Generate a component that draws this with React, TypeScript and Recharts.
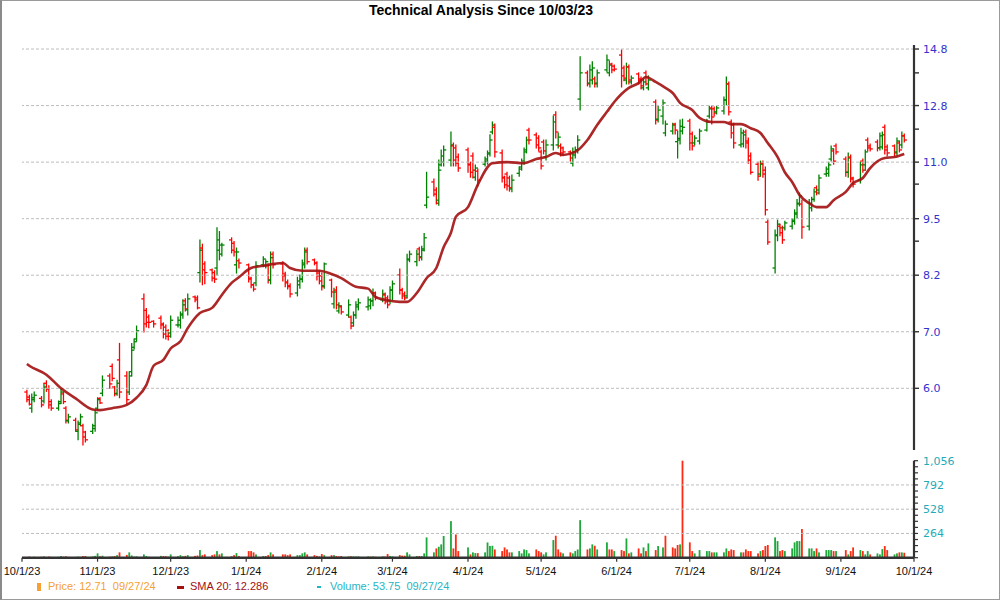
import React from "react";
import { ComposedChart, Bar, Line, XAxis, YAxis, ReferenceLine } from "recharts";

// trading calendar
const START = "2023-10-03";
const END = "2024-09-27";
const holidays = [
  "2023-11-23", "2023-12-25", "2024-01-01", "2024-01-15", "2024-02-19",
  "2024-03-29", "2024-05-27", "2024-06-19", "2024-07-04", "2024-09-02",
];

// [open, high, low, close] per trading day
const oct23 = [
  [5.99, 6.02, 5.84, 5.87], [5.91, 5.94, 5.79, 5.8], [5.74, 5.96, 5.68, 5.9], [5.87, 5.99, 5.84, 5.94],
  [5.89, 5.92, 5.76, 5.79], [5.85, 6.13, 5.82, 6.07], [6.13, 6.17, 6.0, 6.04], [6.04, 6.09, 5.74, 5.79], [5.84, 5.87, 5.71, 5.74],
  [5.74, 5.85, 5.71, 5.81], [5.84, 6.04, 5.81, 5.99], [5.96, 5.99, 5.81, 5.84], [5.74, 5.76, 5.52, 5.56], [5.55, 5.65, 5.52, 5.61],
  [5.56, 5.59, 5.4, 5.42], [5.4, 5.55, 5.28, 5.5], [5.52, 5.65, 5.48, 5.61], [5.48, 5.5, 5.21, 5.32], [5.39, 5.4, 5.25, 5.28],
  [5.4, 5.5, 5.37, 5.48], [5.44, 5.71, 5.4, 5.67],
];
const nov23 = [
  [5.74, 5.9, 5.71, 5.87], [5.89, 5.9, 5.81, 5.82], [5.97, 6.25, 5.93, 6.18],
  [6.25, 6.28, 6.05, 6.12], [6.41, 6.45, 6.17, 6.21], [6.07, 6.08, 5.93, 5.96], [5.97, 6.18, 5.94, 6.13], [6.52, 6.81, 5.9, 5.99],
  [6.25, 6.32, 5.81, 5.87], [5.99, 6.32, 5.95, 6.25], [6.32, 6.81, 6.25, 6.69], [6.74, 6.89, 6.71, 6.84], [6.89, 7.13, 6.85, 7.04],
  [7.66, 7.76, 7.02, 7.17], [7.43, 7.47, 7.11, 7.2], [7.3, 7.34, 7.1, 7.2], [7.22, 7.23, 7.11, 7.17],
  [7.28, 7.32, 7.08, 7.17], [7.15, 7.19, 6.91, 6.98], [7.11, 7.15, 6.89, 6.94], [7.04, 7.06, 6.87, 6.94],
];
const dec23 = [
  [7.0, 7.32, 6.92, 7.24],
  [7.15, 7.3, 7.11, 7.24], [7.15, 7.4, 7.09, 7.34], [7.36, 7.64, 7.28, 7.54], [7.62, 7.66, 7.42, 7.46], [7.44, 7.76, 7.34, 7.66],
  [7.7, 7.72, 7.6, 7.64], [7.68, 7.72, 7.46, 7.48], [8.21, 8.95, 8.01, 8.71], [8.76, 8.85, 7.95, 8.27], [8.4, 8.45, 7.97, 8.21],
  [8.27, 8.29, 8.03, 8.09], [8.21, 8.25, 8.0, 8.07], [8.31, 9.24, 8.16, 8.95], [8.71, 9.15, 8.49, 8.83], [8.62, 8.87, 8.58, 8.83],
  [8.95, 9.0, 8.65, 8.71], [8.87, 8.91, 8.58, 8.67], [8.38, 8.76, 8.2, 8.67], [8.47, 8.51, 8.31, 8.42],
];
const jan24 = [
  [8.38, 8.4, 8.01, 8.09], [8.07, 8.11, 7.89, 7.95], [7.95, 7.97, 7.82, 7.86], [7.99, 8.45, 7.93, 8.36],
  [8.38, 8.56, 8.34, 8.51], [8.36, 8.49, 8.31, 8.45], [8.36, 8.4, 7.99, 8.05], [8.05, 8.67, 7.97, 8.54], [8.62, 8.67, 8.31, 8.38],
  [8.4, 8.45, 8.03, 8.14], [8.18, 8.22, 7.91, 7.99], [8.01, 8.05, 7.86, 7.91], [7.93, 7.97, 7.7, 7.76],
  [7.78, 8.11, 7.72, 8.03], [7.95, 8.16, 7.88, 8.07], [8.07, 8.49, 8.01, 8.42], [8.38, 8.76, 8.31, 8.67], [8.71, 8.76, 8.4, 8.45],
  [8.49, 8.51, 8.38, 8.42], [8.42, 8.45, 8.05, 8.14], [8.2, 8.25, 7.97, 8.03],
];
const feb24 = [
  [8.14, 8.2, 7.84, 7.91], [7.93, 8.42, 7.88, 8.4],
  [8.05, 8.07, 7.7, 7.8], [7.56, 7.88, 7.48, 7.8], [7.84, 7.91, 7.46, 7.54], [7.42, 7.58, 7.38, 7.52], [7.5, 7.52, 7.36, 7.4],
  [7.34, 7.64, 7.3, 7.54], [7.3, 7.32, 7.08, 7.13], [7.19, 7.4, 7.13, 7.34], [7.34, 7.6, 7.28, 7.54], [7.5, 7.66, 7.44, 7.58],
  [7.5, 7.7, 7.44, 7.64], [7.52, 7.66, 7.46, 7.62], [7.62, 7.86, 7.52, 7.78], [7.78, 7.8, 7.64, 7.68],
  [7.64, 7.84, 7.6, 7.76], [7.74, 7.78, 7.56, 7.6], [7.68, 7.72, 7.48, 7.54], [7.62, 7.91, 7.56, 7.84],
];
const mar24 = [
  [7.84, 8.03, 7.64, 7.97],
  [8.16, 8.29, 7.76, 7.84], [7.84, 7.88, 7.66, 7.72], [7.76, 7.8, 7.64, 7.68], [7.72, 8.62, 7.68, 8.49], [8.51, 8.69, 8.45, 8.62],
  [8.45, 8.71, 8.36, 8.62], [8.74, 8.78, 8.47, 8.54], [8.56, 8.8, 8.49, 8.71], [8.74, 9.1, 8.69, 9.0], [9.81, 10.7, 9.74, 10.02],
  [10.43, 10.51, 10.05, 10.1], [10.21, 10.27, 9.84, 9.86], [9.94, 11.05, 9.81, 10.76], [10.91, 11.35, 10.88, 11.17], [10.99, 11.47, 10.88, 11.35],
  [11.05, 11.9, 10.88, 11.5], [11.47, 11.56, 10.88, 11.05], [11.41, 11.5, 10.88, 10.96], [11.14, 11.23, 10.73, 10.82],
];
const apr24 = [
  [11.35, 11.41, 10.7, 10.91], [10.93, 10.99, 10.56, 10.7], [11.17, 11.26, 10.54, 10.76], [10.56, 10.91, 10.48, 10.82], [10.73, 10.79, 10.32, 10.48],
  [10.93, 11.14, 10.88, 11.08], [11.02, 11.32, 10.93, 11.23], [11.26, 11.81, 11.17, 11.65], [11.9, 12.22, 11.84, 12.12], [12.05, 12.15, 11.14, 11.29],
  [11.26, 11.35, 10.43, 10.56], [10.54, 10.59, 10.27, 10.35], [10.65, 10.7, 10.21, 10.32], [10.54, 10.59, 10.18, 10.27], [10.24, 10.62, 10.16, 10.48],
  [10.67, 10.85, 10.59, 10.79], [10.85, 11.08, 10.76, 10.99], [11.02, 11.41, 10.93, 11.29], [11.35, 11.74, 11.26, 11.65], [11.96, 12.02, 11.53, 11.65],
  [11.81, 11.87, 11.41, 11.5], [11.71, 11.78, 11.32, 11.41],
];
const may24 = [
  [11.29, 11.35, 10.79, 10.88], [11.59, 11.65, 11.23, 11.32], [11.14, 11.65, 11.05, 11.5],
  [11.5, 12.41, 11.35, 12.22], [12.45, 12.55, 11.71, 11.9], [11.5, 11.87, 11.41, 11.74], [11.47, 11.53, 11.17, 11.26], [11.41, 11.44, 11.2, 11.29],
  [11.29, 11.32, 11.02, 11.11], [10.96, 11.41, 10.88, 11.29], [11.2, 11.44, 11.11, 11.35], [11.35, 11.78, 11.26, 11.65], [12.98, 14.51, 12.61, 13.91],
  [13.91, 13.98, 13.44, 13.51], [13.54, 14.2, 13.4, 14.02], [13.65, 14.32, 13.51, 14.09], [13.69, 13.76, 13.4, 13.51], [13.54, 14.02, 13.4, 13.91],
  [14.02, 14.58, 13.94, 14.39], [13.91, 14.35, 13.8, 14.2], [14.24, 14.27, 13.91, 14.02], [14.16, 14.2, 13.98, 14.05],
];
const jun24 = [
  [14.58, 14.78, 13.4, 13.8], [14.09, 14.16, 13.62, 13.72], [13.65, 14.27, 13.51, 14.13], [14.13, 14.2, 13.51, 13.65], [13.58, 13.8, 13.51, 13.72],
  [13.87, 13.91, 13.51, 13.65], [13.69, 13.76, 13.33, 13.44], [13.37, 13.69, 13.3, 13.58], [13.91, 13.98, 13.47, 13.51], [13.37, 13.8, 13.3, 13.65],
  [12.88, 12.95, 12.15, 12.28], [12.31, 12.74, 12.22, 12.61], [12.41, 12.95, 12.15, 12.85], [11.87, 12.25, 11.78, 12.15],
  [11.93, 12.18, 11.84, 12.12], [12.15, 12.18, 11.84, 11.96], [11.6, 11.93, 11.11, 11.7], [11.65, 12.28, 11.53, 12.08], [11.93, 12.31, 11.84, 12.05],
];
const jul24 = [
  [12.25, 12.31, 11.35, 11.56], [11.84, 11.9, 11.35, 11.47], [11.56, 11.78, 11.5, 11.71], [11.62, 11.99, 11.53, 11.93],
  [11.96, 12.31, 11.93, 12.22], [12.41, 12.74, 12.35, 12.65], [12.68, 12.74, 12.15, 12.38], [12.65, 12.71, 12.41, 12.51], [12.55, 12.74, 12.48, 12.68],
  [12.58, 13.05, 12.48, 12.95], [12.95, 13.76, 12.78, 13.51], [13.51, 13.58, 12.45, 12.55], [12.22, 12.28, 11.71, 11.87], [12.12, 12.18, 11.41, 11.56],
  [11.5, 12.02, 11.44, 11.87], [11.53, 11.96, 11.44, 11.81], [11.9, 11.96, 11.41, 11.56], [11.62, 11.71, 10.96, 11.05], [11.17, 11.26, 10.65, 10.7],
  [10.93, 10.99, 10.48, 10.59], [10.65, 11.02, 10.59, 10.93], [10.96, 11.02, 10.56, 10.65],
];
const aug24 = [
  [10.76, 10.85, 9.56, 9.69], [9.38, 9.43, 8.85, 8.9],
  [8.31, 9.19, 8.2, 9.07], [9.05, 9.43, 8.93, 9.33], [9.28, 9.33, 9.05, 9.12], [9.24, 9.28, 8.87, 8.95], [9.24, 9.4, 9.19, 9.36],
  [9.28, 9.47, 9.21, 9.43], [9.4, 9.69, 9.33, 9.61], [9.58, 9.96, 9.49, 9.86], [9.84, 10.13, 9.79, 10.05], [9.84, 9.94, 8.99, 9.26],
  [9.28, 9.96, 9.19, 9.86], [9.74, 10.02, 9.66, 9.96], [9.96, 10.24, 9.91, 10.16], [10.27, 10.32, 10.08, 10.13], [10.21, 10.62, 10.1, 10.54],
  [10.65, 10.85, 10.59, 10.79], [10.67, 10.99, 10.59, 10.91], [11.08, 11.47, 11.02, 11.38], [11.32, 11.38, 10.93, 11.02], [11.47, 11.53, 11.23, 11.29],
];
const sep24 = [
  [11.08, 11.14, 10.59, 10.7], [10.7, 11.26, 10.56, 11.11], [11.14, 11.2, 10.43, 10.54], [10.51, 10.56, 10.29, 10.37],
  [10.48, 10.99, 10.4, 10.91], [11.02, 11.08, 10.7, 10.76], [10.91, 11.35, 10.76, 11.29], [11.65, 11.71, 11.32, 11.41], [11.47, 11.53, 11.32, 11.38],
  [11.59, 11.65, 11.32, 11.41], [11.41, 11.87, 11.35, 11.78], [11.44, 11.9, 11.38, 11.81], [12.05, 12.12, 11.23, 11.35], [11.44, 11.5, 11.17, 11.26],
  [11.47, 11.5, 11.17, 11.26], [11.29, 11.71, 11.2, 11.62], [11.56, 11.62, 11.29, 11.35], [11.5, 11.9, 11.41, 11.78], [11.78, 11.84, 11.59, 11.65],
];

// daily volume (thousands)
const volOct23 = [8, 12, 6, 10, 10, 14, 8, 12, 9, 10, 18, 12, 15, 10, 8, 12, 10, 18, 18, 14, 20];
const volNov23 = [47, 16, 22, 12, 14, 18, 28, 58, 30, 58, 25, 12, 14, 36, 18, 10, 6, 20, 18, 16, 12];
const volDec23 = [36, 16, 28, 16, 20, 28, 20, 24, 83, 28, 36, 28, 36, 72, 36, 47, 16, 28, 50, 18];
const volJan24 = [72, 72, 58, 36, 18, 18, 28, 58, 36, 36, 36, 28, 36, 28, 28, 47, 58, 36, 28, 20, 14];
const volFeb24 = [40, 28, 28, 28, 18, 14, 18, 14, 16, 14, 12, 14, 14, 12, 14, 10, 14, 12, 40, 18];
const volMar24 = [14, 28, 22, 22, 58, 36, 18, 18, 18, 47, 221, 58, 101, 119, 145, 236, 398, 101, 253, 72];
const volApr24 = [112, 36, 58, 50, 50, 58, 166, 127, 130, 90, 72, 112, 90, 58, 58, 72, 47, 90, 83, 47, 90, 72];
const volMay24 = [58, 36, 58, 192, 239, 90, 58, 47, 58, 47, 72, 90, 409, 90, 101, 145, 130, 90, 167, 90, 90, 72];
const volJun24 = [83, 72, 210, 47, 58, 101, 47, 112, 72, 156, 83, 127, 112, 239, 112, 101, 138, 145, 1056];
const volJul24 = [167, 72, 47, 83, 72, 72, 58, 58, 58, 58, 101, 72, 90, 83, 58, 58, 90, 72, 72, 47, 72, 83];
const volAug24 = [127, 138, 221, 181, 72, 83, 72, 101, 167, 181, 181, 312, 101, 101, 72, 101, 58, 83, 83, 83, 72, 72];
const volSep24 = [83, 36, 72, 112, 83, 72, 36, 72, 36, 47, 36, 94, 127, 83, 36, 47, 58, 58, 54];

// 20-day SMA
const smaPoints: [string, number][] = [
  ["2023-10-03", 6.45], ["2023-10-04", 6.42], ["2023-10-11", 6.27], ["2023-10-17", 6.05], ["2023-10-23", 5.89],
  ["2023-10-30", 5.72], ["2023-11-02", 5.71], ["2023-11-07", 5.74], ["2023-11-13", 5.79], ["2023-11-17", 5.9],
  ["2023-11-21", 6.1], ["2023-11-24", 6.42], ["2023-11-28", 6.52], ["2023-12-01", 6.72], ["2023-12-05", 6.85],
  ["2023-12-08", 7.09], ["2023-12-13", 7.38], ["2023-12-18", 7.48], ["2023-12-22", 7.74], ["2023-12-26", 7.99],
  ["2023-12-29", 8.11], ["2024-01-03", 8.31], ["2024-01-08", 8.36], ["2024-01-16", 8.42], ["2024-01-19", 8.31],
  ["2024-01-24", 8.25], ["2024-01-31", 8.25], ["2024-02-05", 8.18], ["2024-02-09", 8.09], ["2024-02-15", 7.91],
  ["2024-02-20", 7.87], ["2024-02-23", 7.7], ["2024-02-27", 7.64], ["2024-03-04", 7.6], ["2024-03-07", 7.6],
  ["2024-03-11", 7.78], ["2024-03-15", 8.09], ["2024-03-19", 8.31], ["2024-03-22", 8.78], ["2024-03-25", 9.12],
  ["2024-03-27", 9.51], ["2024-04-01", 9.76], ["2024-04-05", 10.35], ["2024-04-11", 10.96], ["2024-04-17", 10.99],
  ["2024-04-24", 10.96], ["2024-04-29", 11.08], ["2024-05-03", 11.14], ["2024-05-07", 11.26], ["2024-05-10", 11.2],
  ["2024-05-15", 11.29], ["2024-05-20", 11.65], ["2024-05-24", 12.12], ["2024-05-28", 12.55], ["2024-05-31", 12.88],
  ["2024-06-06", 13.37], ["2024-06-10", 13.54], ["2024-06-13", 13.76], ["2024-06-17", 13.58], ["2024-06-21", 13.37],
  ["2024-06-24", 13.19], ["2024-06-27", 12.85], ["2024-07-02", 12.61], ["2024-07-05", 12.35], ["2024-07-10", 12.22],
  ["2024-07-15", 12.22], ["2024-07-18", 12.15], ["2024-07-22", 12.15], ["2024-07-26", 12.02], ["2024-07-30", 11.87],
  ["2024-08-02", 11.56], ["2024-08-06", 11.14], ["2024-08-09", 10.7], ["2024-08-12", 10.43], ["2024-08-15", 10.08],
  ["2024-08-19", 9.86], ["2024-08-22", 9.76], ["2024-08-26", 9.76], ["2024-08-29", 9.94], ["2024-09-03", 10.16],
  ["2024-09-06", 10.4], ["2024-09-10", 10.54], ["2024-09-13", 10.82], ["2024-09-19", 11.11], ["2024-09-23", 11.14],
  ["2024-09-27", 11.23],
];

const priceTicks = [6.049, 7.023, 8.154, 9.466, 10.99, 12.76, 14.814];
const priceMinorTicks = [8.92, 10.37, 11.99, 13.91];
const volumeLabelTicks = [264, 528, 792, 1056];
const volumeTicks = [0, 66, 132, 198, 264, 330, 396, 462, 528, 594, 660, 726, 792, 858, 924, 990, 1056];
const monthStarts = [
  "2023-10-01", "2023-11-01", "2023-12-01", "2024-01-01", "2024-02-01", "2024-03-01", "2024-04-01",
  "2024-05-01", "2024-06-01", "2024-07-01", "2024-08-01", "2024-09-01", "2024-10-01",
];

const DAY = 86400000;
const ORIGIN = Date.UTC(2023, 9, 1);
const dayNum = (s: string) => {
  const [y, m, d] = s.split("-").map(Number);
  return Math.round((Date.UTC(y, m - 1, d) - ORIGIN) / DAY);
};

function tradingDays(): string[] {
  const out: string[] = [];
  for (let t = dayNum(START); t <= dayNum(END); t++) {
    const dt = new Date(ORIGIN + t * DAY);
    const wd = dt.getUTCDay();
    const iso = dt.toISOString().slice(0, 10);
    if (wd === 0 || wd === 6 || holidays.includes(iso)) continue;
    out.push(iso);
  }
  return out;
}

const ohlc = [...oct23, ...nov23, ...dec23, ...jan24, ...feb24, ...mar24, ...apr24, ...may24, ...jun24, ...jul24, ...aug24, ...sep24];
const volume = [...volOct23, ...volNov23, ...volDec23, ...volJan24, ...volFeb24, ...volMar24, ...volApr24, ...volMay24, ...volJun24, ...volJul24, ...volAug24, ...volSep24];
const smaMap = new Map(smaPoints);

const rows = tradingDays().map((date, i) => {
  const [o, h, l, c] = ohlc[i] || [NaN, NaN, NaN, NaN];
  const prevClose = i > 0 && ohlc[i - 1] ? ohlc[i - 1][3] : o;
  return { date, t: dayNum(date), o, h, l, c, v: volume[i], volUp: c >= prevClose, sma: smaMap.get(date) };
});

const monthTicks = monthStarts.map(dayNum);
const fmtMonth = (t: number) => {
  const d = new Date(ORIGIN + t * DAY);
  return `${d.getUTCMonth() + 1}/${d.getUTCDate()}/${String(d.getUTCFullYear()).slice(2)}`;
};

const UP = "#008000";
const DOWN = "#ff0000";
const AXIS = "#333";
const GRID = "#bdbdbd";
const SANS = "'Liberation Sans', Arial, sans-serif";
const TICKFONT = "'DejaVu Sans', Verdana, sans-serif";

function OhlcShape(props: any) {
  const { x, y, width, height, payload } = props;
  if (!payload || !isFinite(payload.h)) return null;
  const cx = x + width / 2;
  const lh = Math.log(payload.h);
  const ll = Math.log(payload.l);
  const py = (v: number) => (lh === ll ? y : y + (height * (lh - Math.log(v))) / (lh - ll));
  const color = payload.c >= payload.o ? UP : DOWN;
  return (
    <g stroke={color} strokeWidth={1.3}>
      <line x1={cx} x2={cx} y1={y - 0.5} y2={y + height + 0.5} />
      <line x1={cx - 2.6} x2={cx} y1={py(payload.o)} y2={py(payload.o)} />
      <line x1={cx} x2={cx + 2.6} y1={py(payload.c)} y2={py(payload.c)} />
    </g>
  );
}

function VolShape(props: any) {
  const { x, y, width, height, payload } = props;
  if (!payload || !(height > 0)) return null;
  const cx = x + width / 2;
  const color = payload.volUp ? "#1ea83c" : "#ff2a12";
  return <rect x={cx - 0.9} y={y} width={1.8} height={height} fill={color} />;
}

function PriceTick(props: any) {
  const { x, y, payload } = props;
  const v = payload.value;
  const major = priceTicks.includes(v);
  const ax = x - 9;
  return (
    <g>
      <line x1={ax} x2={ax + 5} y1={y} y2={y} stroke={AXIS} strokeWidth={1.4} />
      {major && (
        <text x={x} y={y} dy={4} fill="#3333cc" fontSize={11} fontFamily={TICKFONT} textAnchor="start">
          {v.toFixed(1)}
        </text>
      )}
    </g>
  );
}

function VolTick(props: any) {
  const { x, y, payload } = props;
  const v = payload.value;
  const major = volumeLabelTicks.includes(v);
  const ax = x - 9;
  return (
    <g>
      <line x1={ax} x2={ax + 4} y1={y} y2={y} stroke={AXIS} strokeWidth={1.2} />
      {major && (
        <text x={x} y={y} dy={4} fill="#1fabb8" fontSize={11} fontFamily={TICKFONT} textAnchor="start">
          {v.toLocaleString("en-US")}
        </text>
      )}
    </g>
  );
}

const layer: React.CSSProperties = { position: "absolute", left: 0, top: 0 };

export default function App() {
  return (
    <div style={{ position: "absolute", left: 0, top: 0, width: 1000, height: 600, background: "#fff", overflow: "hidden", fontFamily: SANS }}>
      <div style={layer}>
        <ComposedChart width={1000} height={600} data={rows} margin={{ top: 45, right: 0, bottom: 150, left: 22 }}>
          <XAxis dataKey="t" type="number" domain={[0, 366]} hide />
          <YAxis
            orientation="right"
            scale="log"
            domain={[5.14, 14.972]}
            allowDataOverflow
            ticks={[...priceTicks, ...priceMinorTicks].sort((a, b) => a - b)}
            interval={0}
            width={86}
            tickSize={4}
            tickMargin={5}
            tickLine={false}
            axisLine={{ stroke: AXIS, strokeWidth: 2.2 }}
            tick={<PriceTick />}
          />
          {priceTicks.map((v) => (
            <ReferenceLine key={v} y={v} stroke={GRID} strokeDasharray="3 2" />
          ))}
          <Bar dataKey={(d: any) => [d.l, d.h]} shape={OhlcShape} isAnimationActive={false} />
          <Line
            dataKey="sma"
            type="monotone"
            connectNulls
            stroke="#a3100f"
            strokeOpacity={0.9}
            strokeWidth={2.6}
            dot={false}
            activeDot={false}
            isAnimationActive={false}
          />
        </ComposedChart>
      </div>
      <div style={layer}>
        <ComposedChart width={1000} height={600} data={rows} margin={{ top: 460.7, right: 0, bottom: 12.3, left: 22 }}>
          <XAxis
            dataKey="t"
            type="number"
            domain={[0, 366]}
            ticks={monthTicks}
            interval={0}
            tickFormatter={fmtMonth}
            height={30}
            tickSize={4}
            tickMargin={5.5}
            axisLine={{ stroke: AXIS, strokeWidth: 2.6 }}
            tickLine={{ stroke: AXIS, strokeWidth: 1.2 }}
            tick={{ fontSize: 11, fill: "#111", fontFamily: SANS }}
          />
          <YAxis
            orientation="right"
            domain={[0, 1056]}
            ticks={volumeTicks}
            interval={0}
            width={86}
            tickSize={4}
            tickMargin={5}
            tickLine={false}
            axisLine={{ stroke: AXIS, strokeWidth: 2.2 }}
            tick={<VolTick />}
          />
          {[264, 528, 792].map((v) => (
            <ReferenceLine key={v} y={v} stroke={GRID} strokeDasharray="3 2" />
          ))}
          <Bar dataKey="v" shape={VolShape} isAnimationActive={false} />
        </ComposedChart>
      </div>

      <div style={{ position: "absolute", left: 0, top: 2, width: 962, textAlign: "center", fontSize: 14, fontWeight: "bold", color: "#000" }}>
        Technical Analysis Since 10/03/23
      </div>

      <div style={{ position: "absolute", left: 0, top: 580, width: 1000, height: 16, fontSize: 11, whiteSpace: "pre" }}>
        <span style={{ position: "absolute", left: 37, top: 3, width: 4, height: 8, background: "#f5a033" }} />
        <span style={{ position: "absolute", left: 48, top: 0, color: "#f5a033" }}>Price: 12.71  09/27/24</span>
        <span style={{ position: "absolute", left: 177, top: 6, width: 7, height: 3, background: "#a3100f" }} />
        <span style={{ position: "absolute", left: 190, top: 0, color: "#a3100f" }}>SMA 20: 12.286</span>
        <span style={{ position: "absolute", left: 317, top: 6, width: 4, height: 2, background: "#1fb5c5" }} />
        <span style={{ position: "absolute", left: 330, top: 0, color: "#1fb5c5" }}>Volume: 53.75  09/27/24</span>
      </div>

      <div style={{ position: "absolute", left: 0, top: 0, width: 1000, height: 600, boxSizing: "border-box", border: "1px solid #9a9a9a", borderLeft: "2px solid #8a8a8a", pointerEvents: "none" }} />
    </div>
  );
}
